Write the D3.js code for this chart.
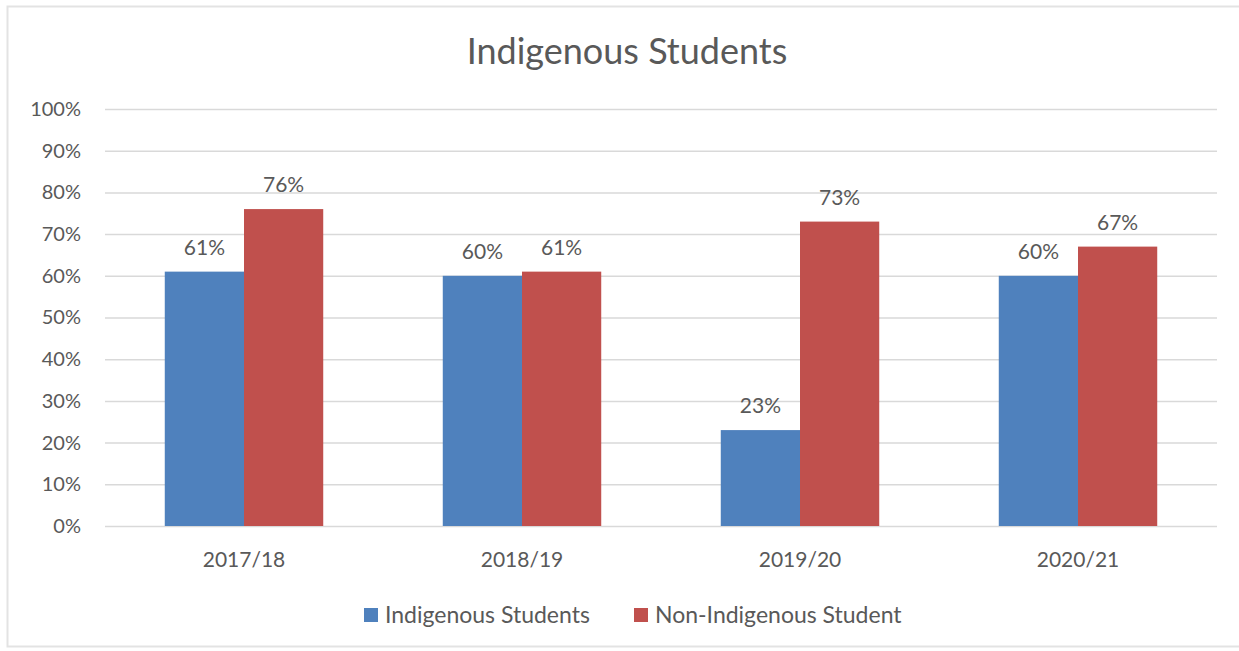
<!DOCTYPE html>
<html>
<head>
<meta charset="utf-8">
<script src="https://cdn.jsdelivr.net/npm/d3@7"></script>
<style>
  html, body { margin: 0; padding: 0; background: #ffffff; }
  svg { display: block; }
  text { font-family: Lato, "Open Sans", sans-serif; fill: #595959; }
</style>
</head>
<body>
<svg id="chart" width="1239" height="651"></svg>
<script>
// Chart data
const categories = ["2017/18", "2018/19", "2019/20", "2020/21"];
const seriesNames = ["Indigenous Students", "Non-Indigenous Student"];
const indigenous = [61, 60, 23, 60];
const nonIndigenous = [76, 61, 73, 67];
const yTicks = [0, 10, 20, 30, 40, 50, 60, 70, 80, 90, 100];
const colors = ["#4F81BD", "#C0504D"];

const svg = d3.select("#chart");
const W = 1239, H = 651;

// outer chart frame
svg.append("rect")
  .attr("x", 7.5).attr("y", 6.5)
  .attr("width", W + 10).attr("height", 640)
  .attr("fill", "#ffffff")
  .attr("stroke", "#e3e3e3").attr("stroke-width", 2);

const plot = { left: 105, right: 1217, top: 109, bottom: 526 };

const x0 = d3.scaleBand()
  .domain(categories)
  .range([plot.left, plot.right])
  .paddingInner(0.43)
  .paddingOuter(0.215);

const x1 = d3.scaleBand()
  .domain(seriesNames)
  .range([0, x0.bandwidth()])
  .padding(0);

const y = d3.scaleLinear().domain([0, 100]).range([plot.bottom, plot.top]);

// title
svg.append("text")
  .attr("x", 627).attr("y", 64)
  .attr("text-anchor", "middle")
  .style("font-size", "36px")
  .text("Indigenous Students");

// gridlines
svg.append("g")
  .selectAll("line")
  .data(yTicks)
  .join("line")
  .attr("x1", plot.left).attr("x2", plot.right)
  .attr("y1", d => y(d) + 0.5).attr("y2", d => y(d) + 0.5)
  .attr("stroke", "#d9d9d9").attr("stroke-width", 1.5);

// y axis labels
const yAxis = d3.axisLeft(y)
  .tickValues(yTicks)
  .tickFormat(d => d + "%")
  .tickSize(0)
  .tickPadding(24);
const yG = svg.append("g")
  .attr("transform", `translate(${plot.left},0)`)
  .call(yAxis);
yG.select(".domain").remove();
yG.selectAll("text")
  .style("font-size", "20px")
  .style("font-family", "Lato, 'Open Sans', sans-serif")
  .attr("fill", "#595959");

// x axis labels
const xAxis = d3.axisBottom(x0).tickSize(0).tickPadding(26);
const xG = svg.append("g")
  .attr("transform", `translate(0,${plot.bottom})`)
  .call(xAxis);
xG.select(".domain").remove();
xG.selectAll("text")
  .style("font-size", "21px")
  .style("font-family", "Lato, 'Open Sans', sans-serif")
  .attr("fill", "#595959");

// bars
const rows = categories.map((c, i) => ({
  cat: c,
  vals: [
    { name: seriesNames[0], v: indigenous[i], color: colors[0] },
    { name: seriesNames[1], v: nonIndigenous[i], color: colors[1] }
  ]
}));

const groups = svg.append("g")
  .selectAll("g")
  .data(rows)
  .join("g")
  .attr("transform", d => `translate(${x0(d.cat)},0)`);

groups.selectAll("rect")
  .data(d => d.vals)
  .join("rect")
  .attr("x", d => x1(d.name))
  .attr("y", d => y(d.v))
  .attr("width", x1.bandwidth())
  .attr("height", d => y(0) - y(d.v))
  .attr("fill", d => d.color);

// value labels
groups.selectAll("text.val")
  .data(d => d.vals)
  .join("text")
  .attr("class", "val")
  .attr("x", d => x1(d.name) + x1.bandwidth() / 2)
  .attr("y", d => y(d.v) - 17)
  .attr("text-anchor", "middle")
  .style("font-size", "21px")
  .text(d => d.v + "%");

// legend
const legendItems = [
  { name: seriesNames[0], color: colors[0], x: 364 },
  { name: seriesNames[1], color: colors[1], x: 634 }
];
const lg = svg.append("g");
legendItems.forEach(it => {
  lg.append("rect")
    .attr("x", it.x).attr("y", 608)
    .attr("width", 14).attr("height", 14)
    .attr("fill", it.color);
  lg.append("text")
    .attr("x", it.x + 21).attr("y", 623)
    .style("font-size", "23px")
    .text(it.name);
});
</script>
</body>
</html>
